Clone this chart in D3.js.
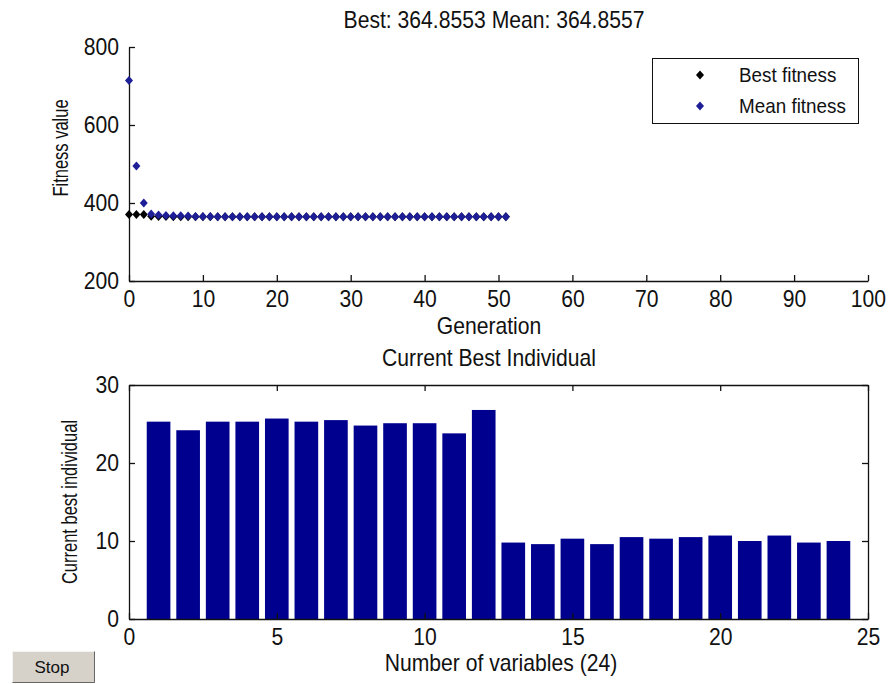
<!DOCTYPE html>
<html>
<head>
<meta charset="utf-8">
<script src="https://cdn.jsdelivr.net/npm/d3@7"></script>
<style>
  body { margin: 0; background: #fff; }
  text { font-family: "Liberation Sans", Arial, sans-serif; fill: #111; }
</style>
</head>
<body>
<div id="chart"></div>
<script>
// generations 0..51
var generations = d3.range(0, 52);
var bestFitness = [370.5, 370.5, 370.5, 366, 365.5, 365.2, 365, 365, 365, 364.9,
  364.9, 364.9, 364.9, 364.9, 364.9, 364.9, 364.9, 364.9, 364.9, 364.9,
  364.86, 364.86, 364.86, 364.86, 364.86, 364.86, 364.86, 364.86, 364.86, 364.86,
  364.86, 364.86, 364.86, 364.86, 364.86, 364.86, 364.86, 364.86, 364.86, 364.86,
  364.86, 364.86, 364.86, 364.86, 364.86, 364.86, 364.86, 364.86, 364.86, 364.86,
  364.86, 364.86];
var meanFitness = [714, 495, 400, 372, 369, 368, 367.5, 367, 366.5, 365.5,
  365.2, 365.1, 365, 365, 365, 364.9, 364.9, 364.9, 364.9, 364.9,
  364.9, 364.9, 364.9, 364.9, 364.9, 364.9, 364.86, 364.86, 364.86, 364.86,
  364.86, 364.86, 364.86, 364.86, 364.86, 364.86, 364.86, 364.86, 364.86, 364.86,
  364.86, 364.86, 364.86, 364.86, 364.86, 364.86, 364.86, 364.86, 364.86, 364.86,
  364.86, 364.86];

var variables = d3.range(1, 25);
var individual = [25.3, 24.2, 25.3, 25.3, 25.7, 25.3, 25.5, 24.8, 25.1, 25.1, 23.8, 26.8,
  9.8, 9.6, 10.3, 9.6, 10.5, 10.3, 10.5, 10.7, 10.0, 10.7, 9.8, 10.0];

var topXTicks = d3.range(0, 101, 10);
var topYTicks = [200, 400, 600, 800];
var botXTicks = [0, 5, 10, 15, 20, 25];
var botYTicks = [0, 10, 20, 30];

var width = 889, height = 684, fs = 23, squeeze = 0.92, tick = 6;

var svg = d3.select("#chart").append("svg")
  .attr("width", width)
  .attr("height", height);

var diamond = function(cx, cy) {
  return "M" + cx + "," + (cy - 4.5) + "L" + (cx + 4) + "," + cy +
    "L" + cx + "," + (cy + 4.5) + "L" + (cx - 4) + "," + cy + "Z";
};

// horizontal text, a little narrower than Arial
function label(g, x, y, str, size) {
  return g.append("text")
    .attr("transform", "translate(" + x + "," + y + ") scale(" + squeeze + ",1)")
    .attr("text-anchor", "middle")
    .style("font-size", (size || fs) + "px")
    .text(str);
}

// rotated y label, squeezed along the text
function yLabel(g, x, y, str) {
  return g.append("text")
    .attr("transform", "translate(" + x + "," + y + ") rotate(-90) scale(0.75,1)")
    .attr("text-anchor", "middle")
    .style("font-size", "22px")
    .text(str);
}

// ---------- top plot ----------
var x1 = d3.scaleLinear().domain([0, 100]).range([129, 868]);
var y1 = d3.scaleLinear().domain([200, 800]).range([281, 47]);

var topPlot = svg.append("g");

topPlot.append("g")
  .attr("transform", "translate(0,281)")
  .call(d3.axisBottom(x1).tickValues(topXTicks).tickSizeInner(-tick).tickSizeOuter(0).tickPadding(10))
  .call(styleAxis);

topPlot.append("g")
  .attr("transform", "translate(129,0)")
  .call(d3.axisLeft(y1).tickValues(topYTicks).tickSizeInner(-tick).tickSizeOuter(0).tickPadding(10))
  .call(styleAxis);

topPlot.selectAll(".best")
  .data(generations)
  .enter().append("path")
  .attr("class", "best")
  .attr("d", function(g) { return diamond(x1(g), y1(bestFitness[g])); })
  .style("fill", "#000");

topPlot.selectAll(".mean")
  .data(generations)
  .enter().append("path")
  .attr("class", "mean")
  .attr("d", function(g) { return diamond(x1(g), y1(meanFitness[g])); })
  .style("fill", "#1e1e96");

label(topPlot, 494, 28, "Best: 364.8553 Mean: 364.8557");
label(topPlot, 489, 334, "Generation");
yLabel(topPlot, 68, 148, "Fitness value");

// legend
var legend = topPlot.append("g");
legend.append("rect")
  .attr("x", 652.5).attr("y", 58.5)
  .attr("width", 206).attr("height", 65)
  .style("fill", "#fff").style("stroke", "#111");
var legendItems = [
  { label: "Best fitness", color: "#000" },
  { label: "Mean fitness", color: "#1e1e96" }
];
legendItems.forEach(function(item, i) {
  var ly = 75 + i * 31;
  legend.append("path")
    .attr("d", diamond(700, ly))
    .style("fill", item.color);
  legend.append("text")
    .attr("transform", "translate(739," + (ly + 7) + ") scale(" + squeeze + ",1)")
    .style("font-size", "20.5px")
    .text(item.label);
});

// ---------- bottom plot ----------
var x2 = d3.scaleLinear().domain([0, 25]).range([129, 868]);
var y2 = d3.scaleLinear().domain([0, 30]).range([619, 385]);
var barW = x2(0.8) - x2(0);

var botPlot = svg.append("g");

botPlot.selectAll("rect.bar")
  .data(variables)
  .enter().append("rect")
  .attr("class", "bar")
  .attr("x", function(v) { return x2(v - 0.4); })
  .attr("y", function(v, i) { return y2(individual[i]); })
  .attr("width", barW)
  .attr("height", function(v, i) { return y2(0) - y2(individual[i]); })
  .style("fill", "#00008f");

botPlot.append("g")
  .attr("transform", "translate(0,619)")
  .call(d3.axisBottom(x2).tickValues(botXTicks).tickSizeInner(-tick).tickSizeOuter(0).tickPadding(10))
  .call(styleAxis);
botPlot.append("g")
  .attr("transform", "translate(0,385)")
  .call(d3.axisTop(x2).tickValues(botXTicks).tickSizeInner(-tick).tickSizeOuter(0).tickFormat(""))
  .call(styleAxis);
botPlot.append("g")
  .attr("transform", "translate(129,0)")
  .call(d3.axisLeft(y2).tickValues(botYTicks).tickSizeInner(-tick).tickSizeOuter(0).tickPadding(10))
  .call(styleAxis);
botPlot.append("g")
  .attr("transform", "translate(868,0)")
  .call(d3.axisRight(y2).tickValues(botYTicks).tickSizeInner(-tick).tickSizeOuter(0).tickFormat(""))
  .call(styleAxis);

label(botPlot, 489, 366, "Current Best Individual");
label(botPlot, 501, 671, "Number of variables (24)");
yLabel(botPlot, 77, 502, "Current best individual");

// stop button
var btn = svg.append("g");
btn.append("rect")
  .attr("x", 12).attr("y", 651).attr("width", 83).attr("height", 32)
  .style("fill", "#d6d2ca");
btn.append("path")
  .attr("d", "M12.5,682.5V651.5H94.5")
  .style("fill", "none").style("stroke", "#f4f4f4");
btn.append("path")
  .attr("d", "M12.5,682.5H94.5V651.5")
  .style("fill", "none").style("stroke", "#666");
btn.append("text")
  .attr("x", 52).attr("y", 673)
  .attr("text-anchor", "middle")
  .style("font-size", "17px")
  .text("Stop");

function styleAxis(g) {
  g.select(".domain").style("stroke", "#111").style("stroke-width", 1.3);
  g.selectAll(".tick line").style("stroke", "#111").style("stroke-width", 1.3);
  g.selectAll(".tick text")
    .style("font-size", fs + "px")
    .style("font-family", "'Liberation Sans', Arial, sans-serif")
    .style("fill", "#111")
    .attr("transform", function() {
      var tx = +d3.select(this).attr("x") || 0;
      return "translate(" + tx + ",0) scale(" + squeeze + ",1) translate(" + (-tx) + ",0)";
    });
}
</script>
</body>
</html>
